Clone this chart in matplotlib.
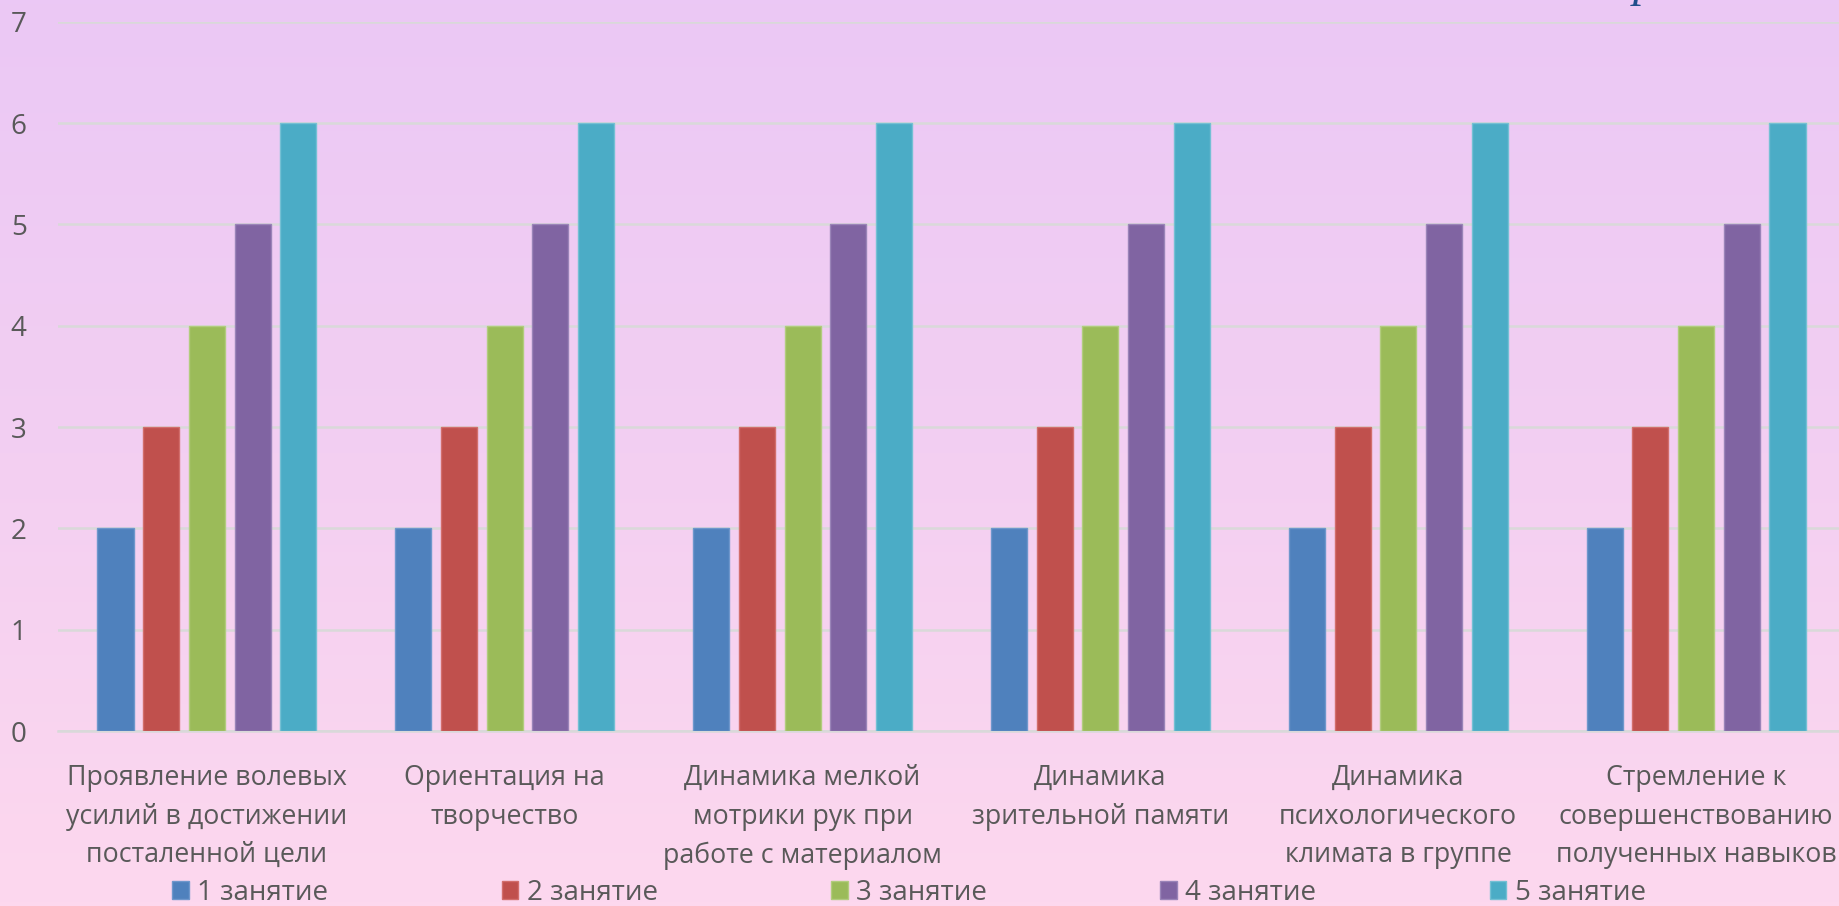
import numpy as np
import matplotlib
matplotlib.use("Agg")
import matplotlib.pyplot as plt
from matplotlib.colors import LinearSegmentedColormap

plt.rcParams['font.family'] = ['Open Sans', 'DejaVu Sans']

categories = [
    "Проявление волевых\nусилий в достижении\nпосталенной цели",
    "Ориентация на\nтворчество",
    "Динамика мелкой\nмотрики рук при\nработе с материалом",
    "Динамика\nзрительной памяти",
    "Динамика\nпсихологического\nклимата в группе",
    "Стремление к\nсовершенствованию\nполученных навыков",
]
series_names = ["1 занятие", "2 занятие", "3 занятие", "4 занятие", "5 занятие"]
s1 = [2, 2, 2, 2, 2, 2]
s2 = [3, 3, 3, 3, 3, 3]
s3 = [4, 4, 4, 4, 4, 4]
s4 = [5, 5, 5, 5, 5, 5]
s5 = [6, 6, 6, 6, 6, 6]
series_values = [s1, s2, s3, s4, s5]
colors = ["#4F81BD", "#C0504D", "#9BBB59", "#8064A2", "#4BACC6"]
edge_colors = ["#6F97CC", "#D26E6C", "#B2CC7E", "#9A84B8", "#74C0D4"]
yticks = [0, 1, 2, 3, 4, 5, 6, 7]

W, H = 1839, 906
fig = plt.figure(figsize=(W / 100, H / 100), dpi=100)

# gradient background
bg = fig.add_axes([0, 0, 1, 1], zorder=-10)
cmap = LinearSegmentedColormap.from_list("bg", ["#EBC8F5", "#F3CFF2", "#FDD8EE"])
grad = np.linspace(0, 1, 256).reshape(-1, 1)
bg.imshow(grad, aspect="auto", cmap=cmap, extent=[0, 1, 0, 1], origin="upper")
bg.set_axis_off()

left = 58 / W
bottom = (H - 731) / H
top = (H - 21.7) / H
width = (1845 - 58) / W
ax = fig.add_axes([left, bottom, width, top - bottom])
ax.patch.set_alpha(0)

x = np.arange(len(categories))
pitch = 0.1535
bw = 0.121
for i, (vals, name) in enumerate(zip(series_values, series_names)):
    ax.bar(x + (i - 2) * pitch, vals, width=bw, color=colors[i],
           edgecolor=edge_colors[i], linewidth=1.0, label=name, zorder=3)

ax.set_xlim(-0.5, len(categories) - 0.5)
ax.set_ylim(0, 7)
ax.set_yticks(yticks)
ax.set_yticklabels([str(t) for t in yticks], fontsize=20, color="#595959")
ax.set_xticks(x)
ax.set_xticklabels(categories, fontsize=19.3, color="#595959", linespacing=1.5)
ax.tick_params(axis="both", length=0)
ax.tick_params(axis="y", pad=34)
ax.tick_params(axis="x", pad=24)
for lbl in ax.get_yticklabels():
    lbl.set_horizontalalignment("left")
ax.grid(axis="y", color="#D9D9D9", linewidth=1.8, zorder=0)
for s in ["top", "right", "left"]:
    ax.spines[s].set_visible(False)
ax.spines["bottom"].set_color("#D9D9D9")
ax.spines["bottom"].set_linewidth(1.8)

leg = fig.legend(loc="center", bbox_to_anchor=(909 / W, 1 - 893 / H), ncol=5,
                 frameon=False, fontsize=20, handlelength=0.6, handleheight=0.6,
                 handletextpad=0.3, columnspacing=6.24, borderaxespad=0)
for t in leg.get_texts():
    t.set_color("#595959")

# cropped title descender at top
fig.text(1633 / W, 1 + 4 / H, "р", fontsize=34, style="italic",
         family=["Liberation Serif", "DejaVu Serif"], color="#1F4E8C",
         ha="left", va="baseline")

fig.savefig("out.png", dpi=100)
